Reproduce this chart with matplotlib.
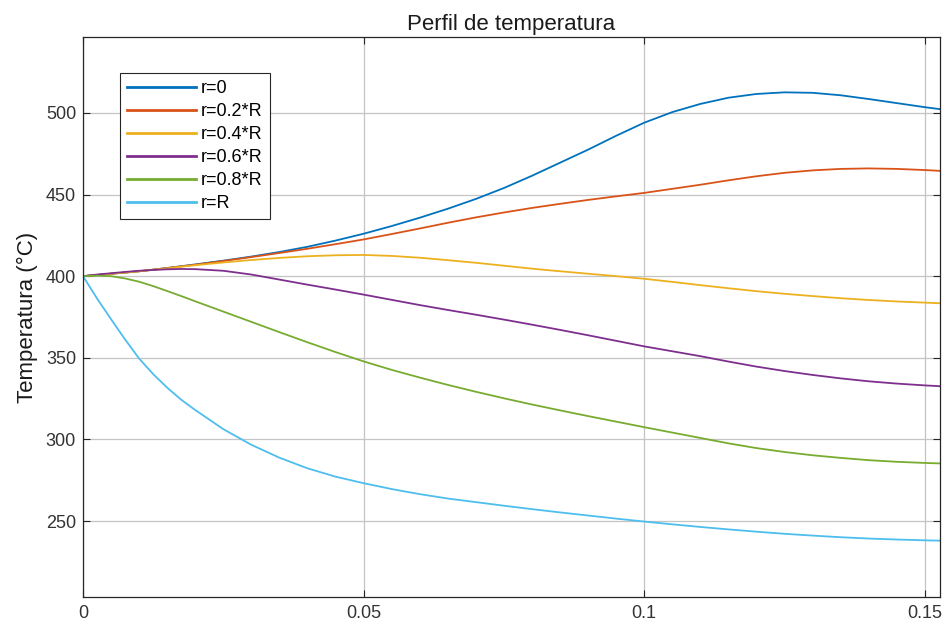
import matplotlib.pyplot as plt

# Perfil de temperatura a lo largo del reactor para distintas posiciones radiales
posicion = [0, 0.0025, 0.005, 0.0075, 0.01, 0.0125, 0.015, 0.0175, 0.02, 0.025,
            0.03, 0.035, 0.04, 0.045, 0.05, 0.055, 0.06, 0.065, 0.07, 0.075,
            0.08, 0.085, 0.09, 0.095, 0.1, 0.105, 0.11, 0.115, 0.12, 0.125,
            0.13, 0.135, 0.14, 0.145, 0.15, 0.1527]

t_r0 = [400, 400.7, 401.5, 402.2, 403, 404, 405, 406.1, 407.2, 409.5,
        412, 414.8, 418, 421.8, 426, 430.7, 435.8, 441.3, 447.3, 454,
        461.5, 469.5, 477.5, 486, 494, 500.5, 505.5, 509.3, 511.6, 512.6,
        512.3, 510.8, 508.5, 506, 503.5, 502.3]
t_r02 = [400, 400.7, 401.5, 402.2, 403, 404, 405, 406, 407, 409.3,
         411.7, 414.2, 416.8, 419.6, 422.5, 425.8, 429.2, 432.7, 436, 439,
         441.8, 444.3, 446.7, 448.9, 451, 453.5, 456, 458.7, 461.2, 463.3,
         464.8, 465.7, 466, 465.7, 465, 464.5]
t_r04 = [400, 400.7, 401.5, 402.2, 403, 403.9, 404.8, 405.8, 406.7, 408.4,
         409.9, 411.2, 412.2, 412.8, 413, 412.4, 411.3, 409.8, 408.2, 406.4,
         404.6, 403, 401.5, 400, 398.4, 396.5, 394.5, 392.6, 390.8, 389.2,
         387.8, 386.5, 385.4, 384.5, 383.8, 383.4]
t_r06 = [400, 401, 401.8, 402.6, 403.3, 403.8, 404.2, 404.4, 404.3, 403.3,
         401, 397.9, 394.8, 391.8, 388.7, 385.5, 382.3, 379.3, 376.4, 373.4,
         370.3, 367.1, 363.8, 360.4, 357, 354, 351, 347.7, 344.6, 341.9,
         339.5, 337.4, 335.6, 334.2, 333.1, 332.6]
t_r08 = [400, 400.3, 400, 398.6, 396.6, 393.9, 390.9, 387.8, 384.6, 378.3,
         372, 365.7, 359.5, 353.5, 347.8, 342.6, 337.9, 333.4, 329.2, 325.2,
         321.4, 317.8, 314.3, 310.9, 307.5, 304.2, 300.9, 297.6, 294.7, 292.3,
         290.3, 288.7, 287.3, 286.3, 285.6, 285.3]
t_rR = [400, 386.3, 373.6, 361.2, 349.5, 340, 331.7, 324.3, 318, 306.3,
        296.7, 288.8, 282.3, 277.2, 273.2, 269.6, 266.5, 263.8, 261.6, 259.4,
        257.3, 255.3, 253.4, 251.5, 249.7, 248, 246.4, 244.9, 243.5, 242.2,
        241.1, 240.1, 239.3, 238.7, 238.2, 238]

series = [t_r0, t_r02, t_r04, t_r06, t_r08, t_rR]
etiquetas = ['r=0', 'r=0.2*R', 'r=0.4*R', 'r=0.6*R', 'r=0.8*R', 'r=R']
colores = ['#0072BD', '#D95319', '#EDB120', '#7E2F8E', '#77AC30', '#4DBEEE']

x_ticks = [0, 0.05, 0.1, 0.15]
x_ticklabels = ['0', '0.05', '0.1', '0.15']
y_ticks = [250, 300, 350, 400, 450, 500]

plt.rcParams['font.family'] = ['Liberation Sans', 'DejaVu Sans']

fig = plt.figure(figsize=(9.49, 6.29), dpi=100)
ax = fig.add_axes([0.0875, 0.0509, 0.903, 0.8903])

for temp, etiqueta, color in zip(series, etiquetas, colores):
    ax.plot(posicion, temp, color=color, lw=1.3, label=etiqueta)

ax.set_xlim(0, 0.1527)
ax.set_ylim(203.5, 546.5)
ax.set_xticks(x_ticks)
ax.set_xticklabels(x_ticklabels)
ax.set_yticks(y_ticks)
ax.grid(True, color='#c4c4c4', lw=0.9)
ax.set_axisbelow(True)
ax.tick_params(direction='in', top=True, right=True, length=5, width=0.8,
               color='#262626', labelcolor='#333333', labelsize=13)
ax.tick_params(axis='x', pad=6)
ax.tick_params(axis='y', pad=5)
for lado in ax.spines.values():
    lado.set_color('#262626')
    lado.set_linewidth(0.9)

ax.set_title('Perfil de temperatura', fontsize=16, color='#1a1a1a', pad=5)
ax.set_ylabel('Temperatura (°C)', fontsize=16, color='#1a1a1a', labelpad=6)

leg = ax.legend(loc='upper left', bbox_to_anchor=(0.043, 0.936), fontsize=13,
                handlelength=3.8, handletextpad=0.28, labelspacing=0.33,
                borderpad=0.4, borderaxespad=0, fancybox=False, framealpha=1)
leg.get_frame().set_edgecolor('#262626')
leg.get_frame().set_linewidth(0.8)
for linea in leg.get_lines():
    linea.set_linewidth(2)

fig.savefig('out.png', dpi=100)
